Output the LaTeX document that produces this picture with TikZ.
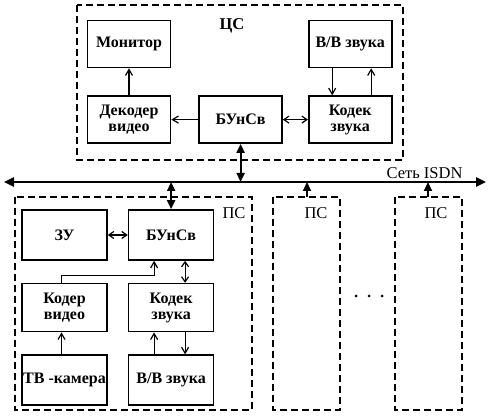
\documentclass[tikz,border=0pt]{standalone}
\usepackage{fontspec}
\setmainfont{Liberation Serif}
\usetikzlibrary{positioning,
                arrows.meta}

\begin{document}
\begin{tikzpicture}[x=1pt, y=-1pt,
    blok/.style={draw, line width=1.6pt, minimum width=83pt, minimum height=47pt,
                 align=center, inner sep=1pt,
                 font=\fontsize{16}{16}\selectfont\bfseries},
    zona/.style={draw, line width=1.5pt, dash pattern=on 7pt off 4pt},
    metka/.style={font=\fontsize{16.5}{16}\selectfont},
    strl/.style={line width=1.2pt, -{Straight Barb[length=6pt, width=7pt]}},
    dvstrl/.style={line width=1.2pt, {Straight Barb[length=5pt, width=7pt]}-{Straight Barb[length=5pt, width=7pt]}},
    shina/.style={line width=2.4pt, {Triangle[length=10pt, width=9pt]}-{Triangle[length=10pt, width=9pt]}},
    vvod/.style={line width=2pt, -{Triangle[length=9pt, width=8pt]}},
    dvvvod/.style={line width=2pt, {Triangle[length=9pt, width=8pt]}-{Triangle[length=9pt, width=8pt]}}]
    \useasboundingbox (0,0) rectangle (490,419);

    % ЦС
    \draw[zona] (77,5) rectangle (403,160);
    \node[metka] (cs_text) at (232,26) {\bfseries ЦС};
    \node[blok] (mon) at (129,44) {Монитор};
    \node[blok, below=27pt of mon] (dek) {Декодер\\видео};
    \node[blok, right=27pt of dek] (bu1) {БУнСв};
    \node[blok, right=25pt of bu1] (kod1) {Кодек\\звука};
    \node[blok, above=27pt of kod1] (vv1) {В/В звука};

    \draw[strl] (dek) -- (mon);
    \draw[strl] (bu1) -- (dek);
    \draw[dvstrl] (bu1) -- (kod1);
    \draw[strl] ([xshift=-18pt]vv1.south) -- ([xshift=-18pt]kod1.north);
    \draw[strl] ([xshift=21pt]kod1.north) -- ([xshift=21pt]vv1.south);

    % Сеть ISDN
    \coordinate (bus_l) at (4,182);
    \coordinate (bus_r) at (486,182);
    \draw[shina] (bus_l) -- (bus_r);
    \node[metka, above left=0pt and 20pt of bus_r] (bus_text) {Сеть ISDN};
    \draw[dvvvod] (bu1.south) -- (bu1.south |- bus_l);

    % ПС 1
    \draw[zona] (15,197) rectangle (252,410);
    \node[metka] (ps1_text) at (234,213) {ПС};
    \node[blok, minimum width=85pt, minimum height=50pt] (zu) at (64.5,235) {ЗУ};
    \node[blok, minimum width=85pt, minimum height=50pt, right=20pt of zu] (bu2) {БУнСв};
    \node[blok, minimum width=85pt, minimum height=48pt, below=22pt of zu] (kv) {Кодер\\видео};
    \node[blok, minimum width=85pt, minimum height=48pt, right=20pt of kv] (kod2) {Кодек\\звука};
    \node[blok, minimum width=85pt, minimum height=50pt, below=22pt of kv] (tv) {ТВ -камера};
    \node[blok, minimum width=85pt, minimum height=50pt, right=20pt of tv] (vv2) {В/В звука};

    \draw[dvvvod] (bu2.north |- bus_l) -- (bu2.north);
    \draw[dvstrl] (zu) -- (bu2);
    \draw[strl] ([xshift=-3pt]kv.north) -- ++(0,-7) -| ([xshift=-17pt]bu2.south);
    \draw[dvstrl] ([xshift=14pt]bu2.south) -- ([xshift=14pt]kod2.north);
    \draw[strl] ([xshift=-3pt]tv.north) -- ([xshift=-3pt]kv.south);
    \draw[strl] ([xshift=-17pt]vv2.north) -- ([xshift=-17pt]kod2.south);
    \draw[strl] ([xshift=14pt]kod2.south) -- ([xshift=14pt]vv2.north);

    % ПС 2 и ПС N
    \draw[zona] (273,197) rectangle (340,410);
    \node[metka] (ps2_text) at (316,213) {ПС};
    \coordinate (ps2_top) at (307,197);
    \draw[vvod] (ps2_top) -- (ps2_top |- bus_l);
    \draw[zona] (395,197) rectangle (462,410);
    \node[metka] (ps3_text) at (436,213) {ПС};
    \coordinate (ps3_top) at (428,197);
    \draw[vvod] (ps3_top) -- (ps3_top |- bus_l);
    \foreach \x in {356,369,382}
        \fill (\x,296) circle (1.5pt);

\end{tikzpicture}
\end{document}
